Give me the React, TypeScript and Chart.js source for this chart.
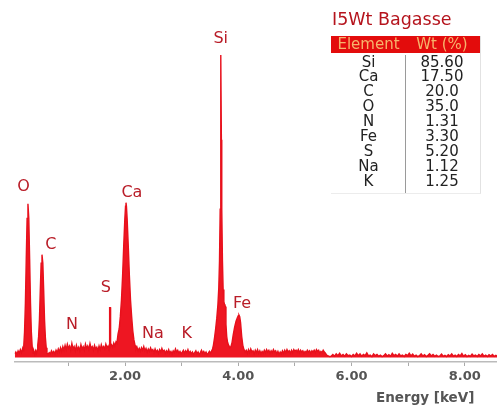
import React, { useEffect, useRef } from "react";
import { Chart, registerables } from "chart.js";

Chart.register(...registerables);

// EDS spectrum: [energy keV, counts]
const SPECTRUM_POINTS: [number, number][] = [
  [0.05, 12], [0.07, 18], [0.09, 10], [0.11, 22], [0.13, 14], [0.15, 26], [0.17, 16], [0.19, 30], [0.2, 22],
  [0.21, 38], [0.224, 85], [0.239, 180], [0.254, 325], [0.269, 460], [0.284, 508], [0.299, 460], [0.314, 325],
  [0.329, 180], [0.344, 85], [0.359, 36],
  [0.375, 14], [0.39, 20], [0.405, 10], [0.42, 22], [0.435, 14], [0.45, 26],
  [0.457, 40], [0.472, 68], [0.487, 125], [0.502, 222], [0.517, 312], [0.532, 340], [0.547, 312], [0.562, 222],
  [0.577, 125], [0.592, 66], [0.607, 32],
  [0.62, 14], [0.64, 10], [0.66, 16], [0.68, 12], [0.7, 22], [0.72, 14], [0.74, 20], [0.76, 12], [0.78, 24],
  [0.8, 16], [0.82, 28], [0.84, 18], [0.86, 32], [0.88, 20], [0.9, 36], [0.92, 24], [0.94, 40], [0.96, 26], [0.98, 44],
  [1.0, 30], [1.02, 38], [1.04, 24], [1.06, 46], [1.08, 28], [1.1, 36], [1.12, 22], [1.14, 40], [1.16, 26], [1.18, 34],
  [1.2, 22], [1.22, 42], [1.24, 28], [1.26, 36], [1.28, 24], [1.3, 44], [1.32, 30], [1.34, 38], [1.36, 26], [1.38, 46],
  [1.4, 30], [1.42, 36], [1.44, 24], [1.46, 40], [1.48, 28], [1.5, 34], [1.52, 22], [1.54, 38], [1.56, 26], [1.58, 42],
  [1.6, 30], [1.62, 36], [1.64, 28], [1.66, 44], [1.68, 32], [1.7, 38], [1.715, 30],
  [1.724, 34], [1.727, 165], [1.741, 165], [1.744, 36],
  [1.76, 42], [1.78, 34], [1.8, 48], [1.82, 38], [1.84, 52], [1.856, 48], [1.876, 78], [1.896, 95], [1.916, 135],
  [1.936, 190], [1.956, 270], [1.976, 370], [1.996, 460], [2.008, 500], [2.016, 512], [2.024, 500], [2.036, 460],
  [2.056, 370], [2.076, 270], [2.096, 190], [2.116, 135], [2.136, 88], [2.156, 58], [2.176, 40],
  [2.19, 26], [2.21, 34], [2.23, 22], [2.25, 30], [2.27, 20], [2.29, 32], [2.31, 24], [2.33, 36],
  [2.35, 22], [2.37, 30], [2.39, 18], [2.41, 28], [2.43, 20], [2.45, 32], [2.47, 22], [2.49, 26], [2.51, 16], [2.53, 28],
  [2.55, 18], [2.57, 24], [2.59, 14], [2.61, 26], [2.63, 18], [2.65, 30], [2.67, 20], [2.69, 24], [2.71, 14], [2.73, 22],
  [2.75, 16], [2.77, 26], [2.79, 14], [2.81, 20], [2.83, 12], [2.85, 22], [2.87, 16], [2.89, 28], [2.91, 18], [2.93, 24],
  [2.95, 14], [2.97, 20], [2.99, 12], [3.01, 18], [3.03, 24], [3.05, 14], [3.07, 22], [3.09, 16], [3.11, 26], [3.13, 14],
  [3.15, 20], [3.17, 12], [3.19, 18], [3.21, 10], [3.23, 16], [3.25, 22], [3.27, 12], [3.29, 18], [3.31, 10], [3.33, 16],
  [3.35, 24], [3.37, 14], [3.39, 20], [3.41, 12], [3.43, 18], [3.45, 10], [3.47, 14], [3.49, 20], [3.51, 14], [3.53, 22],
  [3.545, 28],
  [3.56, 40], [3.58, 65], [3.6, 95], [3.62, 130], [3.64, 175], [3.655, 230], [3.668, 320], [3.68, 490], [3.687, 720],
  [3.694, 1000], [3.701, 720], [3.708, 490], [3.72, 320], [3.732, 225], [3.745, 185], [3.755, 176], [3.765, 172], [3.775, 168],
  [3.782, 110], [3.795, 70], [3.81, 50], [3.83, 40], [3.85, 32], [3.87, 36],
  [3.89, 50], [3.91, 75], [3.935, 100], [3.96, 120], [3.985, 132], [4.0, 138], [4.012, 140], [4.025, 135], [4.04, 115],
  [4.06, 70], [4.08, 40], [4.1, 26], [4.12, 18],
  [4.14, 24], [4.16, 14], [4.18, 26], [4.2, 16], [4.22, 28], [4.24, 18], [4.26, 22], [4.28, 12], [4.3, 24], [4.32, 16],
  [4.34, 26], [4.36, 14], [4.38, 22], [4.4, 12], [4.42, 20], [4.44, 14], [4.46, 24], [4.48, 16], [4.5, 26], [4.52, 18],
  [4.54, 24], [4.56, 14], [4.58, 22], [4.6, 16], [4.62, 26], [4.64, 18], [4.66, 22], [4.68, 12], [4.7, 20], [4.72, 10],
  [4.74, 18], [4.76, 12], [4.78, 22], [4.8, 14], [4.82, 24], [4.84, 16], [4.86, 26], [4.88, 18], [4.9, 22], [4.92, 14],
  [4.94, 24], [4.96, 16], [4.98, 26], [5.0, 20], [5.02, 24], [5.04, 18], [5.06, 26], [5.08, 16], [5.1, 24], [5.12, 18],
  [5.14, 22], [5.16, 14], [5.18, 20], [5.2, 16], [5.22, 24], [5.24, 18], [5.26, 22], [5.28, 14], [5.3, 22], [5.32, 18],
  [5.34, 24], [5.36, 16], [5.38, 26], [5.4, 20], [5.42, 24], [5.44, 14], [5.46, 20], [5.48, 16], [5.5, 24], [5.52, 18],
  [5.54, 14], [5.56, 8],
  [5.58, 6], [5.61, 3], [5.64, 4], [5.67, 10], [5.7, 4], [5.73, 12], [5.76, 6], [5.79, 14], [5.82, 5], [5.85, 10],
  [5.88, 4], [5.91, 12], [5.94, 6], [5.97, 8], [6.0, 3], [6.03, 10], [6.06, 5], [6.09, 14], [6.12, 6], [6.15, 12],
  [6.18, 4], [6.21, 10], [6.24, 6], [6.27, 15], [6.3, 5], [6.33, 8], [6.36, 3], [6.39, 12], [6.42, 6], [6.45, 10],
  [6.48, 4], [6.51, 8], [6.54, 3], [6.57, 6], [6.6, 12], [6.63, 5], [6.66, 9], [6.69, 4], [6.72, 14], [6.75, 6],
  [6.78, 10], [6.81, 4], [6.84, 12], [6.87, 5], [6.9, 8], [6.93, 3], [6.96, 10], [6.99, 6], [7.02, 14], [7.05, 5],
  [7.08, 11], [7.11, 4], [7.14, 8], [7.17, 3], [7.2, 6], [7.23, 12], [7.26, 5], [7.29, 9], [7.32, 3], [7.35, 7],
  [7.38, 12], [7.41, 5], [7.44, 10], [7.47, 4], [7.5, 8], [7.53, 3], [7.56, 5], [7.59, 11], [7.62, 4], [7.65, 7],
  [7.68, 3], [7.71, 9], [7.74, 5], [7.77, 12], [7.8, 4], [7.83, 8], [7.86, 3], [7.89, 10], [7.92, 5], [7.95, 13],
  [7.98, 4], [8.01, 9], [8.04, 3], [8.07, 7], [8.1, 4], [8.13, 11], [8.16, 5], [8.19, 8], [8.22, 3], [8.25, 10],
  [8.28, 5], [8.31, 12], [8.34, 4], [8.37, 8], [8.4, 3], [8.43, 9], [8.46, 5], [8.49, 10], [8.52, 4], [8.55, 7], [8.57, 5],
];

// Peak annotation labels (text, energy keV, counts where label sits)
const PEAK_LABELS = ["O", "C", "N", "S", "Ca", "Na", "K", "Si", "Fe"];
const PEAK_LABEL_E = [0.205, 0.69, 1.06, 1.66, 2.12, 2.49, 3.09, 3.69, 4.065];
const PEAK_LABEL_Y = [564, 372, 108, 230, 544, 78, 78, 1054, 177];

// Table
const TABLE_TITLE = "I5Wt Bagasse";
const TABLE_HEADERS = ["Element", "Wt (%)"];
const TABLE_ELEMENTS = ["Si", "Ca", "C", "O", "N", "Fe", "S", "Na", "K"];
const TABLE_WT = ["85.60", "17.50", "20.0", "35.0", "1.31", "3.30", "5.20", "1.12", "1.25"];

// Axis
const X_MIN = 0.05;
const X_MAX = 8.57;
const Y_MIN = -15;
const Y_MAX = 1050;
const X_TICKS = [1, 2, 3, 4, 5, 6, 7, 8];
const X_LABELED = [2, 4, 6, 8];
const X_TITLE = "Energy [keV]";

const peakLabelPlugin = {
  id: "peakLabels",
  afterDatasetsDraw(chart: any) {
    const { ctx, scales } = chart;
    ctx.save();
    ctx.fillStyle = "#b91d28";
    ctx.font = '16px "DejaVu Sans"';
    ctx.textAlign = "center";
    ctx.textBaseline = "middle";
    PEAK_LABELS.forEach((t, i) => {
      ctx.fillText(t, scales.x.getPixelForValue(PEAK_LABEL_E[i]), scales.y.getPixelForValue(PEAK_LABEL_Y[i]));
    });
    ctx.restore();
  },
};

export default function App() {
  const ref = useRef<HTMLCanvasElement | null>(null);

  useEffect(() => {
    document.body.style.margin = "0";
    const chart = new Chart(ref.current as HTMLCanvasElement, {
      type: "line",
      data: {
        datasets: [
          {
            data: SPECTRUM_POINTS.map(([x, y]) => ({ x, y })),
            borderColor: "#e8101c",
            backgroundColor: "#ee1622",
            borderWidth: 1.4,
            borderJoinStyle: "miter",
            pointRadius: 0,
            fill: "origin",
            tension: 0,
          },
        ],
      },
      options: {
        animation: false,
        responsive: false,
        devicePixelRatio: 1,
        layout: { padding: { left: 14.7, top: 40, right: 0, bottom: 0 } },
        plugins: { legend: { display: false }, tooltip: { enabled: false } },
        scales: {
          x: {
            type: "linear",
            min: X_MIN,
            max: X_MAX,
            afterBuildTicks: (s: any) => {
              s.ticks = X_TICKS.map((v) => ({ value: v }));
            },
            afterFit: (s: any) => {
              s.height = 46;
            },
            ticks: {
              autoSkip: false,
              maxRotation: 0,
              padding: 3,
              color: "#555",
              font: { family: "DejaVu Sans", weight: "bold", size: 13 },
              callback: (v: any) => (X_LABELED.includes(Number(v)) ? Number(v).toFixed(2) : ""),
            },
            grid: { drawOnChartArea: false, drawTicks: true, tickLength: 4, color: "#aaa" },
            border: { color: "#bbb", width: 1.5 },
          },
          y: { display: false, min: Y_MIN, max: Y_MAX },
        },
      },
      plugins: [peakLabelPlugin],
    } as any);
    return () => chart.destroy();
  }, []);

  const font = '"DejaVu Sans", sans-serif';
  return (
    <div style={{ position: "relative", width: 497, height: 408, background: "#fff", overflow: "hidden" }}>
      <canvas ref={ref} width={497} height={408} style={{ position: "absolute", left: 0, top: 0 }} />
      <div style={{ position: "absolute", left: 332, top: 9.3, fontFamily: font, fontSize: 17.5, lineHeight: "20px", color: "#b5141d", whiteSpace: "nowrap" }}>
        {TABLE_TITLE}
      </div>
      <div style={{ position: "absolute", left: 331, top: 36, width: 149, height: 157, background: "#fff", borderRight: "1px solid #e2e2e2", borderBottom: "1px solid #ececec", fontFamily: font, fontSize: 15 }}>
        <div style={{ display: "flex", height: 17, background: "#e30c0c", color: "#f6b46c", lineHeight: "17px" }}>
          <div style={{ width: 75, textAlign: "center" }}>{TABLE_HEADERS[0]}</div>
          <div style={{ width: 72, textAlign: "center" }}>{TABLE_HEADERS[1]}</div>
        </div>
        <div style={{ display: "flex", paddingTop: 1.5, color: "#222" }}>
          <div style={{ width: 75, textAlign: "center" }}>
            {TABLE_ELEMENTS.map((e) => (
              <div key={e} style={{ height: 14.9, lineHeight: "14.9px" }}>{e}</div>
            ))}
          </div>
          <div style={{ width: 72, textAlign: "center", borderLeft: "1px solid #9a9a9a", marginLeft: -1, height: 138 }}>
            {TABLE_WT.map((w, i) => (
              <div key={i} style={{ height: 14.9, lineHeight: "14.9px" }}>{w}</div>
            ))}
          </div>
        </div>
      </div>
      <div style={{ position: "absolute", left: 376, top: 389, fontFamily: font, fontWeight: "bold", fontSize: 13.5, lineHeight: "16px", color: "#555", whiteSpace: "nowrap" }}>
        {X_TITLE}
      </div>
    </div>
  );
}
